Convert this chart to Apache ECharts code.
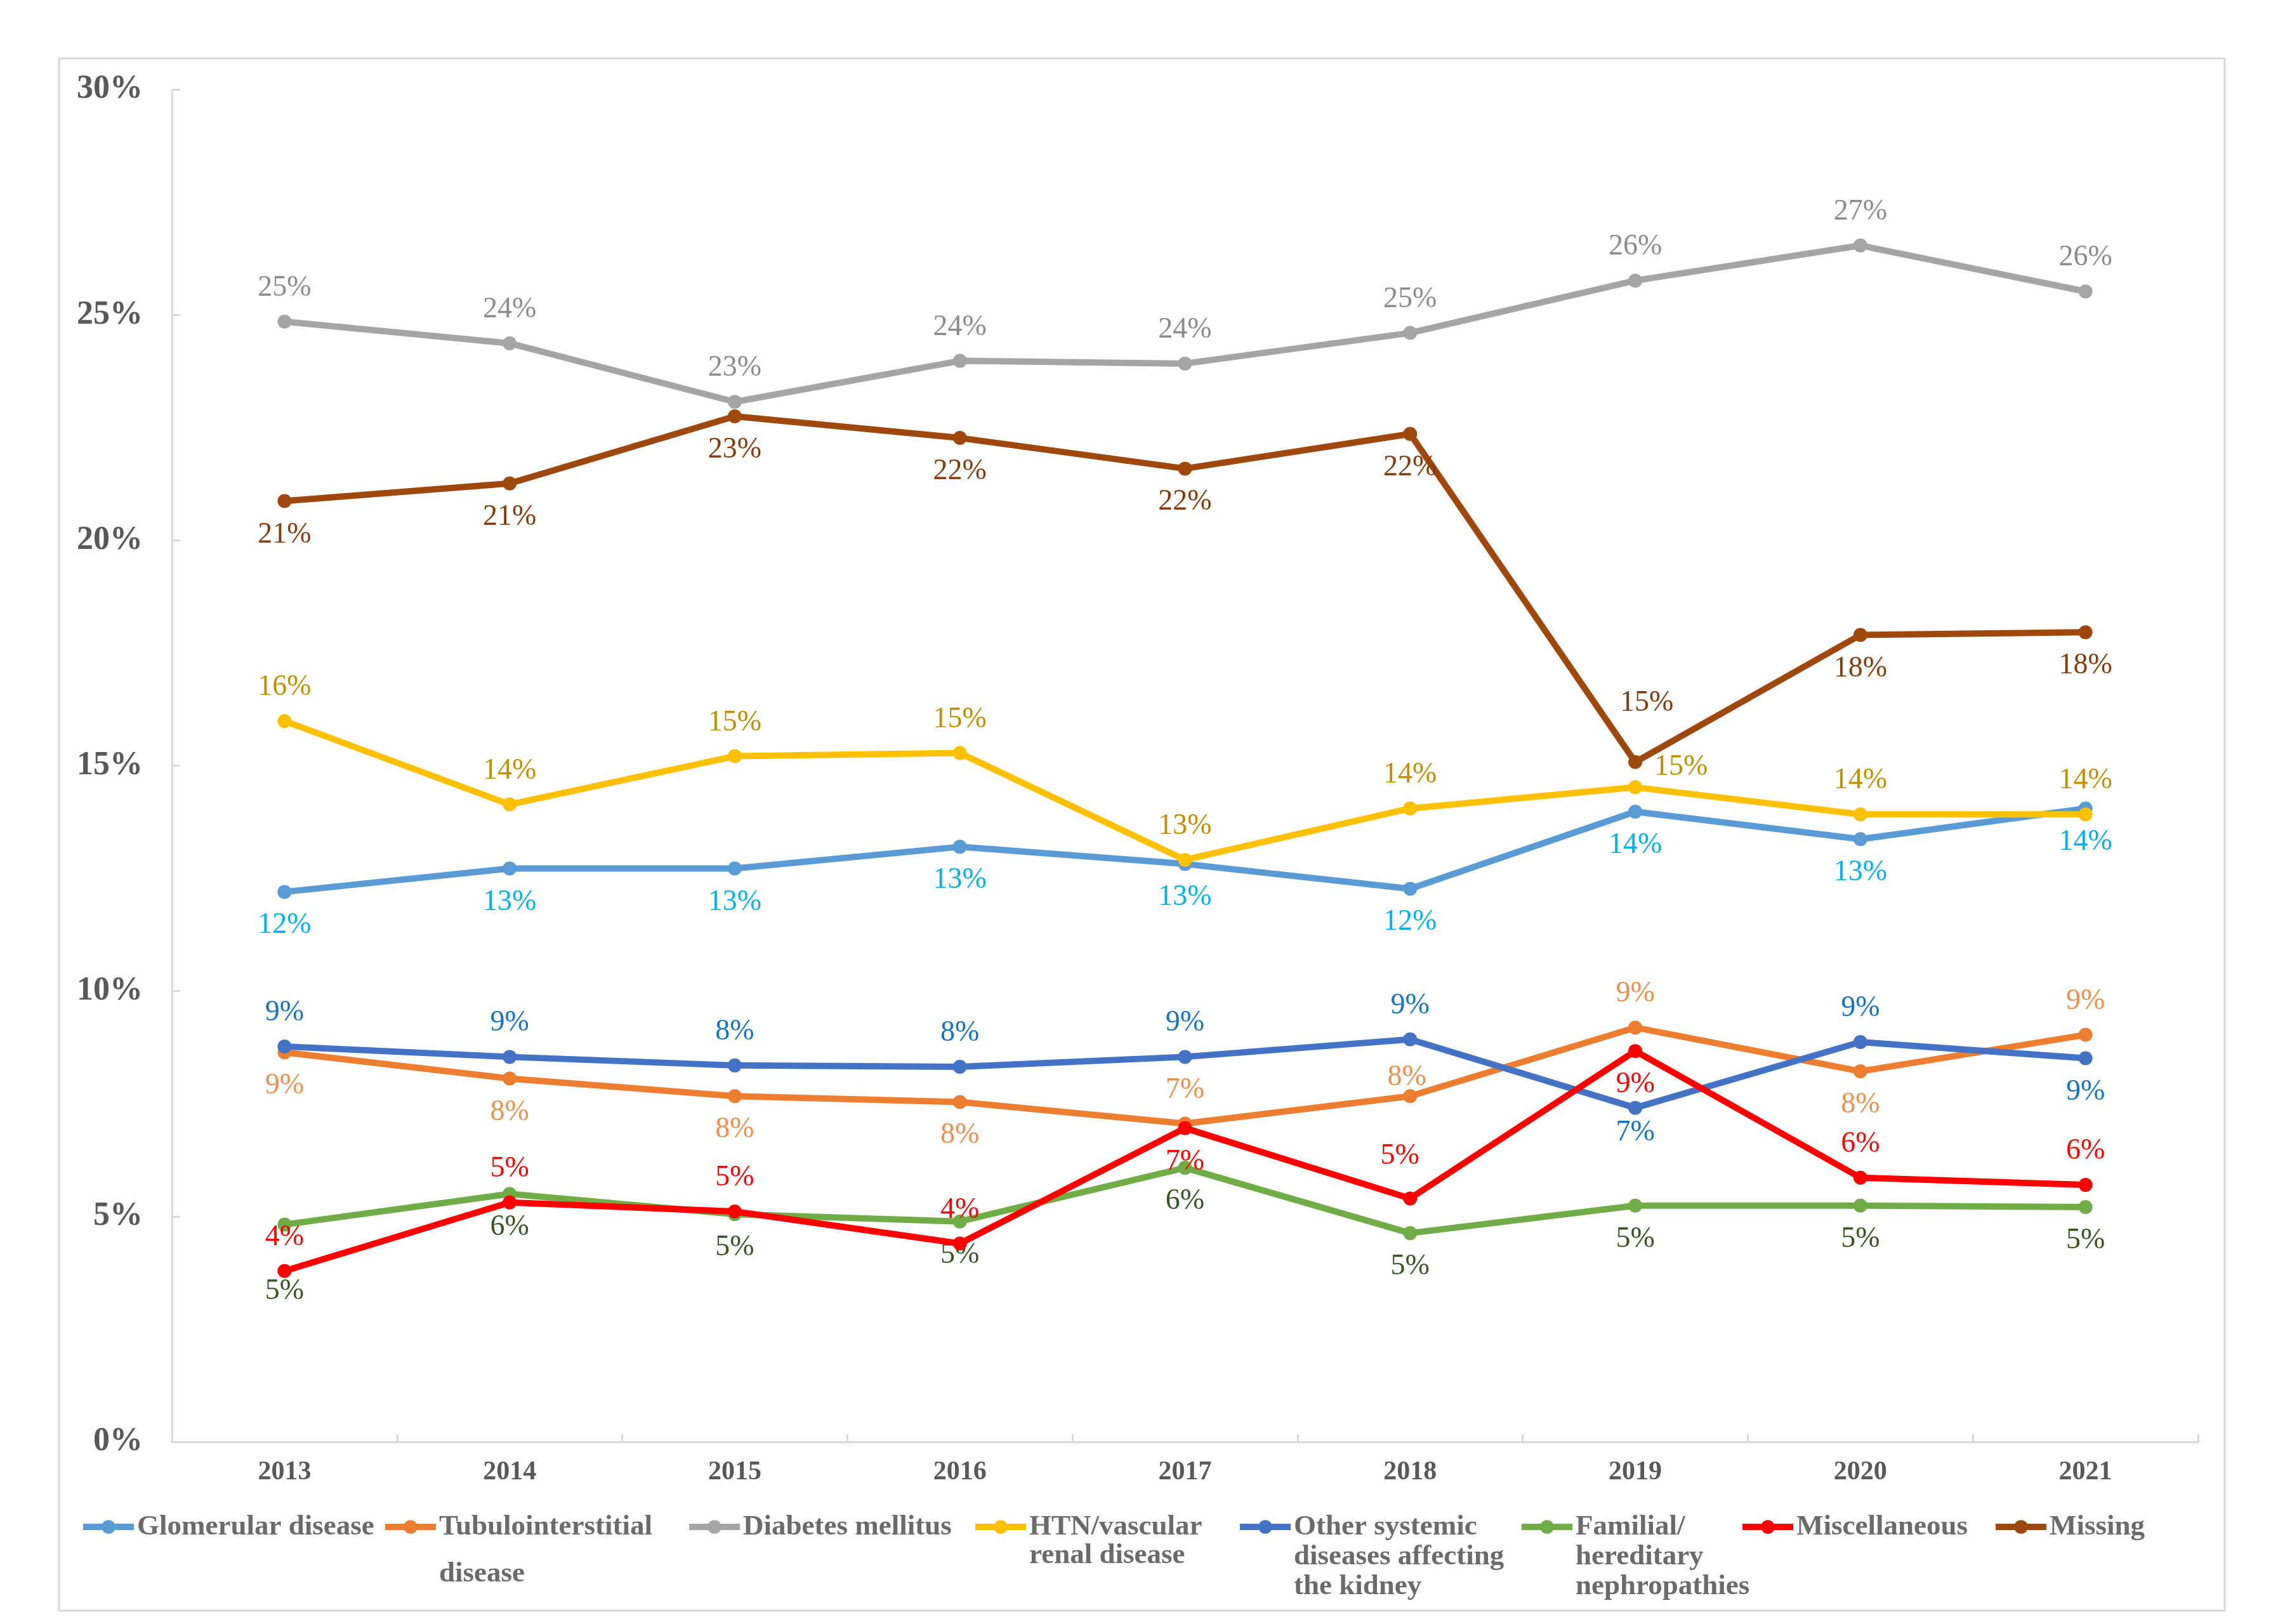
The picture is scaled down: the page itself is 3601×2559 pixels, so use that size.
<!DOCTYPE html>
<html>
<head>
<meta charset="utf-8">
<script src="https://cdn.jsdelivr.net/npm/echarts@6/dist/echarts.min.js"></script>
<style>html,body{margin:0;padding:0;background:#fff}#c{width:3601px;height:2559px}</style>
</head>
<body>
<div id="c"></div>
<script>
const years = ['2013','2014','2015','2016','2017','2018','2019','2020','2021'];
const yTicks = [0, 5, 10, 15, 20, 25, 30];
const seriesNames = ['Glomerular disease','Tubulointerstitial disease','Diabetes mellitus','HTN/vascular renal disease','Other systemic diseases affecting the kidney','Familial/ hereditary nephropathies','Miscellaneous','Missing'];
const legendTexts = ['Glomerular disease','Tubulointerstitial\ndisease','Diabetes mellitus','HTN/vascular\nrenal disease','Other systemic\ndiseases affecting\nthe kidney','Familial/\nhereditary\nnephropathies','Miscellaneous','Missing'];
const glomerular = [12.2, 12.72, 12.72, 13.2, 12.82, 12.27, 13.98, 13.37, 14.05];
const tubulo = [8.64, 8.06, 7.67, 7.54, 7.06, 7.67, 9.19, 8.22, 9.03];
const diabetes = [24.85, 24.37, 23.07, 23.98, 23.92, 24.6, 25.76, 26.54, 25.52];
const htn = [15.99, 14.14, 15.21, 15.28, 12.91, 14.05, 14.52, 13.92, 13.92];
const otherSys = [8.77, 8.54, 8.35, 8.32, 8.54, 8.93, 7.41, 8.87, 8.51];
const familial = [4.82, 5.5, 5.05, 4.89, 6.08, 4.63, 5.24, 5.24, 5.21];
const misc = [3.79, 5.31, 5.11, 4.4, 6.96, 5.4, 8.67, 5.86, 5.7];
const missing = [20.87, 21.26, 22.75, 22.27, 21.59, 22.36, 15.08, 17.9, 17.96];
const allData = [glomerular, tubulo, diabetes, htn, otherSys, familial, misc, missing];

// styles
const lineColors = ['#5b9bd5','#ed7d31','#a5a5a5','#ffc000','#4472c4','#70ad47','#ff0000','#9e480e'];
const labelColors = ['#00b0f0','#ef8f4f','#8c8c8c','#bf9000','#1673c4','#375623','#ff0000','#843c0c'];
const T='top', B='bottom';
const labelPos = [
  [B,B,B,B,B,B,B,B,B],
  [B,B,B,B,T,T,T,B,T],
  [T,T,T,T,T,T,T,T,T],
  [T,T,T,T,T,T,T,T,T],
  [T,T,T,T,T,T,B,T,B],
  [B,B,B,B,B,B,B,B,B],
  [T,T,T,T,B,T,B,T,T],
  [B,B,B,B,B,B,T,B,B]
];
const labelOffsets = { '3-6': [72, 21], '5-0': [0, 52], '7-6': [18, -40], '4-6': [0, -14], '6-5': [-16, -13], '1-5': [-5, 24] };
const legendLeft = [126, 602, 1081, 1532, 1949, 2393, 2741, 3140];
const legendLineH = [47, 74, 47, 45, 47, 47, 47, 47];
const legendCenterY = 2406;
const FONT = 'Liberation Serif';

const series = seriesNames.map((name, si) => ({
  name: name,
  type: 'line',
  symbol: 'circle',
  symbolSize: 22,
  z: 2 + si,
  lineStyle: { width: 10, color: lineColors[si] },
  itemStyle: { color: lineColors[si] },
  data: allData[si].map((v, i) => {
    const off = labelOffsets[si + '-' + i];
    return {
      value: v,
      label: {
        position: labelPos[si][i],
        offset: off || [0, 0]
      }
    };
  }),
  label: {
    show: true,
    distance: 19,
    fontFamily: FONT,
    fontSize: 46,
    lineHeight: 46,
    color: labelColors[si],
    formatter: p => Math.round(p.value) + '%'
  }
}));

const legends = seriesNames.map((name, si) => {
  const lines = legendTexts[si].split('\n');
  const n = lines.length;
  const L = legendLineH[si];
  // blank lines in front keep the first line level with the icon
  const shown = new Array(n - 1).fill(' ').concat(lines).join('\n');
  return {
    data: [name],
    left: legendLeft[si],
    top: legendCenterY - (2 * n - 1) * L / 2,
    padding: 0,
    itemWidth: 80,
    itemHeight: 27,
    lineStyle: { width: 10 },
    formatter: () => shown,
    textStyle: {
      fontFamily: FONT,
      fontSize: 45,
      fontWeight: 'bold',
      color: '#6b6b6b',
      lineHeight: L
    }
  };
});

const chart = echarts.init(document.getElementById('c'), null, { renderer: 'canvas' });
chart.setOption({
  backgroundColor: '#ffffff',
  animation: false,
  graphic: [{
    type: 'rect',
    shape: { x: 93, y: 92, width: 3413, height: 2446 },
    style: { fill: 'none', stroke: '#d9d9d9', lineWidth: 3 },
    silent: true
  }],
  grid: { left: 271, right: 137, top: 141, bottom: 287, containLabel: false },
  legend: legends,
  xAxis: {
    type: 'category',
    data: years,
    boundaryGap: true,
    axisLine: { show: true, lineStyle: { color: '#d9d9d9', width: 3 } },
    axisTick: { show: true, inside: true, length: 12, interval: 0, lineStyle: { color: '#d9d9d9', width: 3 } },
    axisLabel: { margin: 27, fontFamily: FONT, fontSize: 42, fontWeight: 'bold', color: '#595959' },
    splitLine: { show: false }
  },
  yAxis: {
    type: 'value',
    min: yTicks[0],
    max: yTicks[yTicks.length - 1],
    interval: yTicks[1] - yTicks[0],
    axisLine: { show: true, lineStyle: { color: '#d9d9d9', width: 3 } },
    axisTick: { show: true, inside: true, length: 13, lineStyle: { color: '#d9d9d9', width: 3 } },
    axisLabel: { margin: 46, fontFamily: FONT, fontSize: 52, fontWeight: 'bold', color: '#595959', formatter: '{value}%' },
    splitLine: { show: false }
  },
  series: series
});
</script>
</body>
</html>
